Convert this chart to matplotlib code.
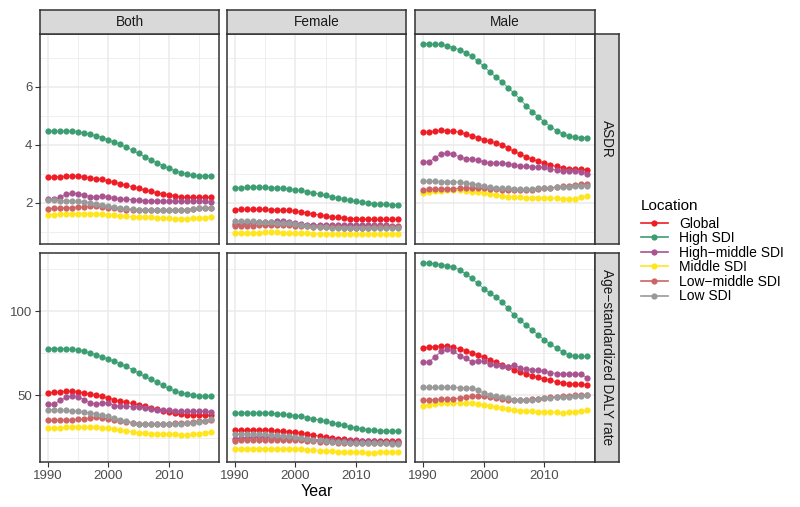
import matplotlib
matplotlib.use("Agg")
import matplotlib.pyplot as plt
from matplotlib.lines import Line2D
from matplotlib.ticker import FixedLocator
import numpy as np

plt.rcParams['font.family'] = ['Liberation Sans', 'DejaVu Sans']

#######################################################################
## Data
#######################################################################
years = list(range(1990, 2018))
locations = ["Global", "High SDI", "High\u2212middle SDI", "Middle SDI", "Low\u2212middle SDI", "Low SDI"]
sexes = ["Both", "Female", "Male"]
measures = ["ASDR", "Age\u2212standardized DALY rate"]
colors = ["#EE1C25", "#3C9D72", "#A9538F", "#FFE51E", "#CD6464", "#999999"]

# ASDR, Both
asdr_both_global = [2.88, 2.89, 2.90, 2.92, 2.92, 2.91, 2.89, 2.86, 2.83, 2.80, 2.75, 2.70, 2.65, 2.60, 2.55, 2.49, 2.44, 2.39, 2.34, 2.30, 2.26, 2.23, 2.21, 2.19, 2.18, 2.18, 2.18, 2.19]
asdr_both_high = [4.47, 4.47, 4.47, 4.48, 4.46, 4.45, 4.41, 4.36, 4.31, 4.25, 4.17, 4.09, 4.01, 3.92, 3.81, 3.70, 3.59, 3.48, 3.38, 3.28, 3.19, 3.11, 3.04, 2.98, 2.94, 2.92, 2.92, 2.93]
asdr_both_highmid = [2.11, 2.12, 2.18, 2.29, 2.33, 2.31, 2.26, 2.21, 2.20, 2.23, 2.21, 2.16, 2.12, 2.11, 2.10, 2.08, 2.07, 2.06, 2.06, 2.05, 2.05, 2.05, 2.04, 2.04, 2.05, 2.05, 2.04, 2.02]
asdr_both_mid = [1.56, 1.58, 1.59, 1.60, 1.61, 1.62, 1.62, 1.62, 1.61, 1.60, 1.58, 1.56, 1.55, 1.53, 1.52, 1.51, 1.50, 1.49, 1.48, 1.47, 1.46, 1.45, 1.45, 1.45, 1.46, 1.47, 1.48, 1.50]
asdr_both_lowmid = [1.79, 1.80, 1.81, 1.82, 1.83, 1.84, 1.85, 1.87, 1.88, 1.86, 1.83, 1.80, 1.78, 1.76, 1.75, 1.74, 1.73, 1.73, 1.73, 1.73, 1.73, 1.74, 1.75, 1.76, 1.78, 1.80, 1.82, 1.83]
asdr_both_low = [2.08, 2.08, 2.07, 2.07, 2.06, 2.04, 2.02, 2.00, 1.97, 1.93, 1.88, 1.84, 1.81, 1.80, 1.78, 1.76, 1.75, 1.74, 1.74, 1.74, 1.74, 1.74, 1.75, 1.76, 1.78, 1.80, 1.82, 1.83]

# ASDR, Female
asdr_female_global = [1.76, 1.77, 1.77, 1.77, 1.77, 1.77, 1.76, 1.75, 1.74, 1.73, 1.71, 1.68, 1.65, 1.61, 1.57, 1.54, 1.51, 1.49, 1.47, 1.45, 1.44, 1.43, 1.42, 1.42, 1.42, 1.42, 1.42, 1.42]
asdr_female_high = [2.51, 2.52, 2.53, 2.55, 2.54, 2.53, 2.52, 2.51, 2.49, 2.47, 2.45, 2.42, 2.38, 2.34, 2.29, 2.25, 2.20, 2.16, 2.12, 2.08, 2.04, 2.01, 1.99, 1.97, 1.95, 1.94, 1.93, 1.93]
asdr_female_highmid = [1.25, 1.26, 1.28, 1.31, 1.33, 1.34, 1.34, 1.35, 1.36, 1.33, 1.28, 1.25, 1.24, 1.23, 1.23, 1.23, 1.22, 1.22, 1.22, 1.22, 1.22, 1.22, 1.21, 1.21, 1.21, 1.21, 1.20, 1.20]
asdr_female_mid = [0.95, 0.95, 0.96, 0.96, 0.96, 0.97, 0.97, 0.97, 0.96, 0.96, 0.96, 0.95, 0.94, 0.93, 0.93, 0.93, 0.92, 0.91, 0.91, 0.90, 0.90, 0.90, 0.90, 0.90, 0.90, 0.91, 0.91, 0.92]
asdr_female_lowmid = [1.19, 1.19, 1.20, 1.20, 1.21, 1.21, 1.21, 1.21, 1.21, 1.21, 1.20, 1.19, 1.18, 1.17, 1.16, 1.16, 1.15, 1.15, 1.14, 1.14, 1.14, 1.14, 1.14, 1.15, 1.15, 1.16, 1.16, 1.17]
asdr_female_low = [1.37, 1.36, 1.36, 1.35, 1.34, 1.33, 1.32, 1.31, 1.30, 1.28, 1.25, 1.22, 1.19, 1.17, 1.16, 1.15, 1.14, 1.13, 1.13, 1.12, 1.12, 1.12, 1.12, 1.12, 1.12, 1.13, 1.13, 1.13]

# ASDR, Male
asdr_male_global = [4.43, 4.44, 4.46, 4.50, 4.49, 4.47, 4.43, 4.38, 4.31, 4.25, 4.18, 4.12, 4.06, 4.00, 3.89, 3.77, 3.68, 3.58, 3.50, 3.43, 3.37, 3.30, 3.25, 3.21, 3.18, 3.16, 3.15, 3.14]
asdr_male_high = [7.50, 7.49, 7.47, 7.47, 7.42, 7.36, 7.28, 7.18, 7.06, 6.90, 6.71, 6.52, 6.34, 6.17, 5.98, 5.78, 5.57, 5.35, 5.15, 4.96, 4.79, 4.63, 4.49, 4.38, 4.30, 4.26, 4.25, 4.25]
asdr_male_highmid = [3.40, 3.42, 3.55, 3.69, 3.72, 3.67, 3.58, 3.52, 3.51, 3.47, 3.42, 3.38, 3.37, 3.36, 3.35, 3.31, 3.26, 3.25, 3.24, 3.23, 3.22, 3.17, 3.12, 3.08, 3.09, 3.10, 3.07, 3.00]
asdr_male_mid = [2.34, 2.37, 2.39, 2.40, 2.42, 2.43, 2.42, 2.40, 2.38, 2.36, 2.33, 2.30, 2.27, 2.24, 2.21, 2.19, 2.18, 2.17, 2.17, 2.17, 2.17, 2.16, 2.15, 2.13, 2.11, 2.14, 2.18, 2.22]
asdr_male_lowmid = [2.45, 2.46, 2.47, 2.47, 2.48, 2.48, 2.49, 2.50, 2.51, 2.50, 2.49, 2.47, 2.46, 2.44, 2.43, 2.42, 2.42, 2.43, 2.45, 2.47, 2.50, 2.52, 2.54, 2.56, 2.59, 2.62, 2.64, 2.66]
asdr_male_low = [2.74, 2.74, 2.74, 2.73, 2.73, 2.72, 2.71, 2.69, 2.65, 2.61, 2.56, 2.53, 2.51, 2.49, 2.49, 2.48, 2.47, 2.47, 2.47, 2.49, 2.51, 2.52, 2.53, 2.54, 2.55, 2.56, 2.57, 2.57]

# DALY, Both
daly_both_global = [51.5, 51.8, 52.1, 52.5, 52.4, 52.0, 51.4, 50.7, 50.0, 49.4, 48.5, 47.3, 46.5, 45.9, 45.2, 44.5, 43.5, 42.5, 41.8, 41.0, 40.0, 39.3, 38.8, 38.3, 38.2, 38.1, 38.1, 38.1]
daly_both_high = [77.8, 77.8, 77.7, 77.6, 77.4, 77.0, 76.1, 75.2, 74.0, 72.9, 71.6, 70.2, 68.7, 67.2, 65.3, 63.3, 61.3, 59.6, 58.0, 56.0, 54.1, 52.7, 51.5, 50.7, 50.1, 49.7, 49.6, 49.6]
daly_both_highmid = [44.6, 45.0, 47.0, 48.8, 49.9, 49.3, 47.5, 45.7, 44.8, 45.6, 45.2, 44.0, 43.5, 43.5, 43.4, 43.2, 42.5, 42.0, 41.5, 41.3, 41.2, 40.9, 40.6, 40.5, 40.5, 40.6, 40.5, 40.1]
daly_both_mid = [30.4, 30.7, 30.9, 31.0, 31.2, 31.3, 31.4, 31.3, 31.0, 30.8, 30.5, 29.9, 29.3, 28.8, 28.3, 27.8, 27.5, 27.3, 27.1, 27.0, 27.0, 26.8, 26.7, 26.6, 26.8, 27.2, 27.8, 28.3]
daly_both_lowmid = [35.1, 35.2, 35.3, 35.4, 35.5, 35.7, 36.0, 36.4, 36.9, 36.5, 36.0, 35.5, 35.0, 34.5, 33.9, 33.3, 33.1, 33.0, 33.0, 33.1, 33.3, 33.4, 33.6, 33.8, 34.2, 34.6, 34.9, 35.1]
daly_both_low = [41.4, 41.3, 41.2, 41.1, 41.0, 40.5, 40.0, 39.6, 39.0, 38.3, 37.6, 36.5, 35.5, 34.6, 33.8, 33.3, 32.9, 32.8, 32.9, 33.0, 33.1, 33.2, 33.3, 33.5, 33.8, 34.2, 34.9, 35.7]

# DALY, Female
daly_female_global = [29.2, 29.3, 29.4, 29.5, 29.6, 29.5, 29.3, 29.0, 28.7, 28.4, 28.1, 27.6, 27.0, 26.3, 25.8, 25.3, 24.9, 24.4, 24.0, 23.7, 23.4, 23.2, 23.1, 23.0, 23.0, 23.0, 23.0, 23.0]
daly_female_high = [39.6, 39.6, 39.6, 39.6, 39.6, 39.6, 39.4, 39.1, 38.8, 38.4, 38.0, 37.5, 36.8, 36.1, 35.4, 34.7, 33.9, 33.0, 32.2, 31.4, 30.7, 30.1, 29.7, 29.3, 29.0, 28.9, 28.8, 28.8]
daly_female_highmid = [24.2, 24.5, 25.0, 25.3, 25.5, 25.4, 25.2, 25.0, 24.8, 24.7, 24.5, 24.2, 23.9, 23.7, 23.5, 23.4, 23.3, 23.2, 23.1, 23.0, 23.0, 22.9, 22.8, 22.7, 22.6, 22.6, 22.5, 22.4]
daly_female_mid = [18.3, 18.3, 18.4, 18.4, 18.4, 18.4, 18.4, 18.4, 18.3, 18.3, 18.2, 17.9, 17.6, 17.3, 17.1, 17.0, 16.8, 16.6, 16.4, 16.3, 16.2, 16.2, 16.1, 16.1, 16.2, 16.3, 16.4, 16.5]
daly_female_lowmid = [23.2, 23.3, 23.4, 23.5, 23.6, 23.6, 23.6, 23.6, 23.6, 23.5, 23.5, 23.3, 23.0, 22.7, 22.5, 22.4, 22.2, 22.0, 21.9, 21.8, 21.8, 21.7, 21.7, 21.7, 21.7, 21.8, 21.8, 21.8]
daly_female_low = [27.2, 27.1, 27.0, 26.9, 26.9, 26.8, 26.6, 26.4, 26.1, 25.8, 25.5, 25.0, 24.4, 23.8, 23.3, 23.0, 22.6, 22.3, 22.1, 22.0, 22.0, 21.9, 21.8, 21.7, 21.6, 21.5, 21.4, 21.4]

# DALY, Male
daly_male_global = [78.4, 78.6, 79.0, 79.4, 79.2, 78.6, 77.6, 76.6, 75.3, 74.0, 72.7, 71.2, 69.7, 68.2, 66.7, 65.2, 64.0, 62.8, 61.7, 60.7, 59.7, 58.9, 58.1, 57.4, 57.0, 56.7, 56.5, 56.4]
daly_male_high = [128.9, 128.6, 128.1, 127.7, 127.0, 126.2, 124.5, 122.2, 119.5, 116.5, 113.4, 110.8, 108.2, 105.5, 101.6, 97.7, 94.6, 91.6, 88.8, 85.8, 83.0, 80.4, 78.0, 75.9, 74.1, 73.3, 73.1, 73.1]
daly_male_highmid = [69.6, 70.0, 73.0, 76.1, 77.5, 76.5, 73.5, 72.2, 70.0, 70.5, 70.2, 68.5, 68.0, 67.6, 67.0, 68.2, 66.0, 65.5, 65.2, 64.8, 64.5, 63.5, 63.0, 62.8, 62.6, 62.7, 62.8, 60.6]
daly_male_mid = [44.0, 44.5, 45.0, 45.2, 45.4, 45.5, 45.5, 45.4, 45.2, 44.9, 44.5, 43.8, 43.1, 42.5, 41.8, 41.1, 40.8, 40.6, 40.5, 40.4, 40.4, 40.2, 40.0, 39.8, 39.9, 40.2, 40.8, 41.3]
daly_male_lowmid = [47.0, 47.2, 47.5, 47.7, 47.8, 47.9, 48.3, 48.9, 49.5, 49.5, 49.4, 49.0, 48.5, 48.0, 47.5, 47.1, 47.2, 47.4, 47.7, 48.1, 48.5, 48.9, 49.3, 49.8, 49.9, 50.0, 50.1, 50.1]
daly_male_low = [54.7, 54.7, 54.7, 54.7, 54.7, 54.7, 54.6, 54.5, 54.3, 53.0, 51.4, 50.5, 49.7, 49.0, 48.2, 47.5, 47.4, 47.4, 47.5, 48.0, 48.5, 48.7, 48.9, 49.0, 49.3, 49.6, 49.9, 50.1]

panels = {
  (0, 0): [asdr_both_global, asdr_both_high, asdr_both_highmid, asdr_both_mid, asdr_both_lowmid, asdr_both_low],
  (0, 1): [asdr_female_global, asdr_female_high, asdr_female_highmid, asdr_female_mid, asdr_female_lowmid, asdr_female_low],
  (0, 2): [asdr_male_global, asdr_male_high, asdr_male_highmid, asdr_male_mid, asdr_male_lowmid, asdr_male_low],
  (1, 0): [daly_both_global, daly_both_high, daly_both_highmid, daly_both_mid, daly_both_lowmid, daly_both_low],
  (1, 1): [daly_female_global, daly_female_high, daly_female_highmid, daly_female_mid, daly_female_lowmid, daly_female_low],
  (1, 2): [daly_male_global, daly_male_high, daly_male_highmid, daly_male_mid, daly_male_lowmid, daly_male_low],
}

#######################################################################
## Layout (pixels on an 800x507 canvas)
#######################################################################
W, H = 800, 507
col_x = [(40, 219), (227, 406), (415, 595)]
row_y = [(34, 244), (253, 462)]
strip_top = (10, 34)
strip_right = (595, 619)

dark = "#333333"
grid_col = "#EBEBEB"
strip_fill = "#D9D9D9"

def rect(x0, x1, y0, y1):
  return [x0 / W, 1 - y1 / H, (x1 - x0) / W, (y1 - y0) / H]

def style_box(ax):
  for s in ax.spines.values():
    s.set_color(dark)
    s.set_linewidth(1.1)

fig = plt.figure(figsize=(8, 5.07), dpi=100)

# y limits shared across a row (ggplot free y per row, 5% expansion)
row_lims = []
for r in range(2):
  vals = np.concatenate([np.array(s) for c in range(3) for s in panels[(r, c)]])
  lo, hi = vals.min(), vals.max()
  pad = (hi - lo) * 0.05
  row_lims.append((lo - pad, hi + pad))
xpad = (years[-1] - years[0]) * 0.05
xlim = (years[0] - xpad, years[-1] + xpad)

y_major = [[2, 4, 6], [50, 100]]
y_minor = [[1, 3, 5, 7], [25, 75, 125]]

for r in range(2):
  for c in range(3):
    ax = fig.add_axes(rect(col_x[c][0], col_x[c][1], row_y[r][0], row_y[r][1]))
    ax.set_xlim(*xlim)
    ax.set_ylim(*row_lims[r])
    ax.xaxis.set_major_locator(FixedLocator([1990, 2000, 2010]))
    ax.xaxis.set_minor_locator(FixedLocator([1995, 2005, 2015]))
    ax.yaxis.set_major_locator(FixedLocator(y_major[r]))
    ax.yaxis.set_minor_locator(FixedLocator(y_minor[r]))
    ax.grid(which='major', color=grid_col, linewidth=1.1, zorder=0)
    ax.grid(which='minor', color=grid_col, linewidth=0.55, zorder=0)
    ax.set_axisbelow(True)
    ax.tick_params(which='minor', length=0)
    ax.tick_params(which='major', length=3.5, width=0.8, color=dark,
                   labelcolor="#4D4D4D", labelsize=9.5, pad=2)
    if c != 0:
      ax.tick_params(axis='y', which='major', length=0, labelleft=False)
    if r != 1:
      ax.tick_params(axis='x', which='major', length=0, labelbottom=False)
    style_box(ax)

    series = panels[(r, c)]
    for i, s in enumerate(series):
      ax.plot(years, s, color=colors[i], linewidth=0.6, zorder=2)
    for i, s in enumerate(series):
      ax.plot(years, s, linestyle='none', marker='o', markersize=4.5,
              markeredgewidth=0, color=colors[i], zorder=3)

    # top strips
    if r == 0:
      sax = fig.add_axes(rect(col_x[c][0], col_x[c][1], strip_top[0], strip_top[1]))
      sax.set_facecolor(strip_fill)
      sax.set_xticks([]); sax.set_yticks([])
      style_box(sax)
      sax.text(0.5, 0.5, sexes[c], ha='center', va='center', fontsize=9.8,
               color="#1A1A1A", transform=sax.transAxes)

  # right strips
  rax = fig.add_axes(rect(strip_right[0], strip_right[1], row_y[r][0], row_y[r][1]))
  rax.set_facecolor(strip_fill)
  rax.set_xticks([]); rax.set_yticks([])
  style_box(rax)
  rax.text(0.5, 0.5, measures[r], ha='center', va='center', rotation=-90,
           fontsize=9.8, color="#1A1A1A", transform=rax.transAxes)

fig.text(317 / W, 1 - 492 / H, "Year", ha='center', va='center', fontsize=11.5, color="black")

handles = [Line2D([0], [0], color=colors[i], linewidth=1.2, marker='o', markersize=4.5,
                  markeredgewidth=0) for i in range(len(locations))]
leg = fig.legend(handles, locations, title="Location", loc='upper left',
                 bbox_to_anchor=(628 / W, 1 - 186 / H), frameon=False, fontsize=10,
                 title_fontsize=11, handlelength=2.0, labelspacing=0.04,
                 handletextpad=0.8, alignment='left')
leg._legend_box.sep = 3

plt.savefig("out.png", dpi=100)
